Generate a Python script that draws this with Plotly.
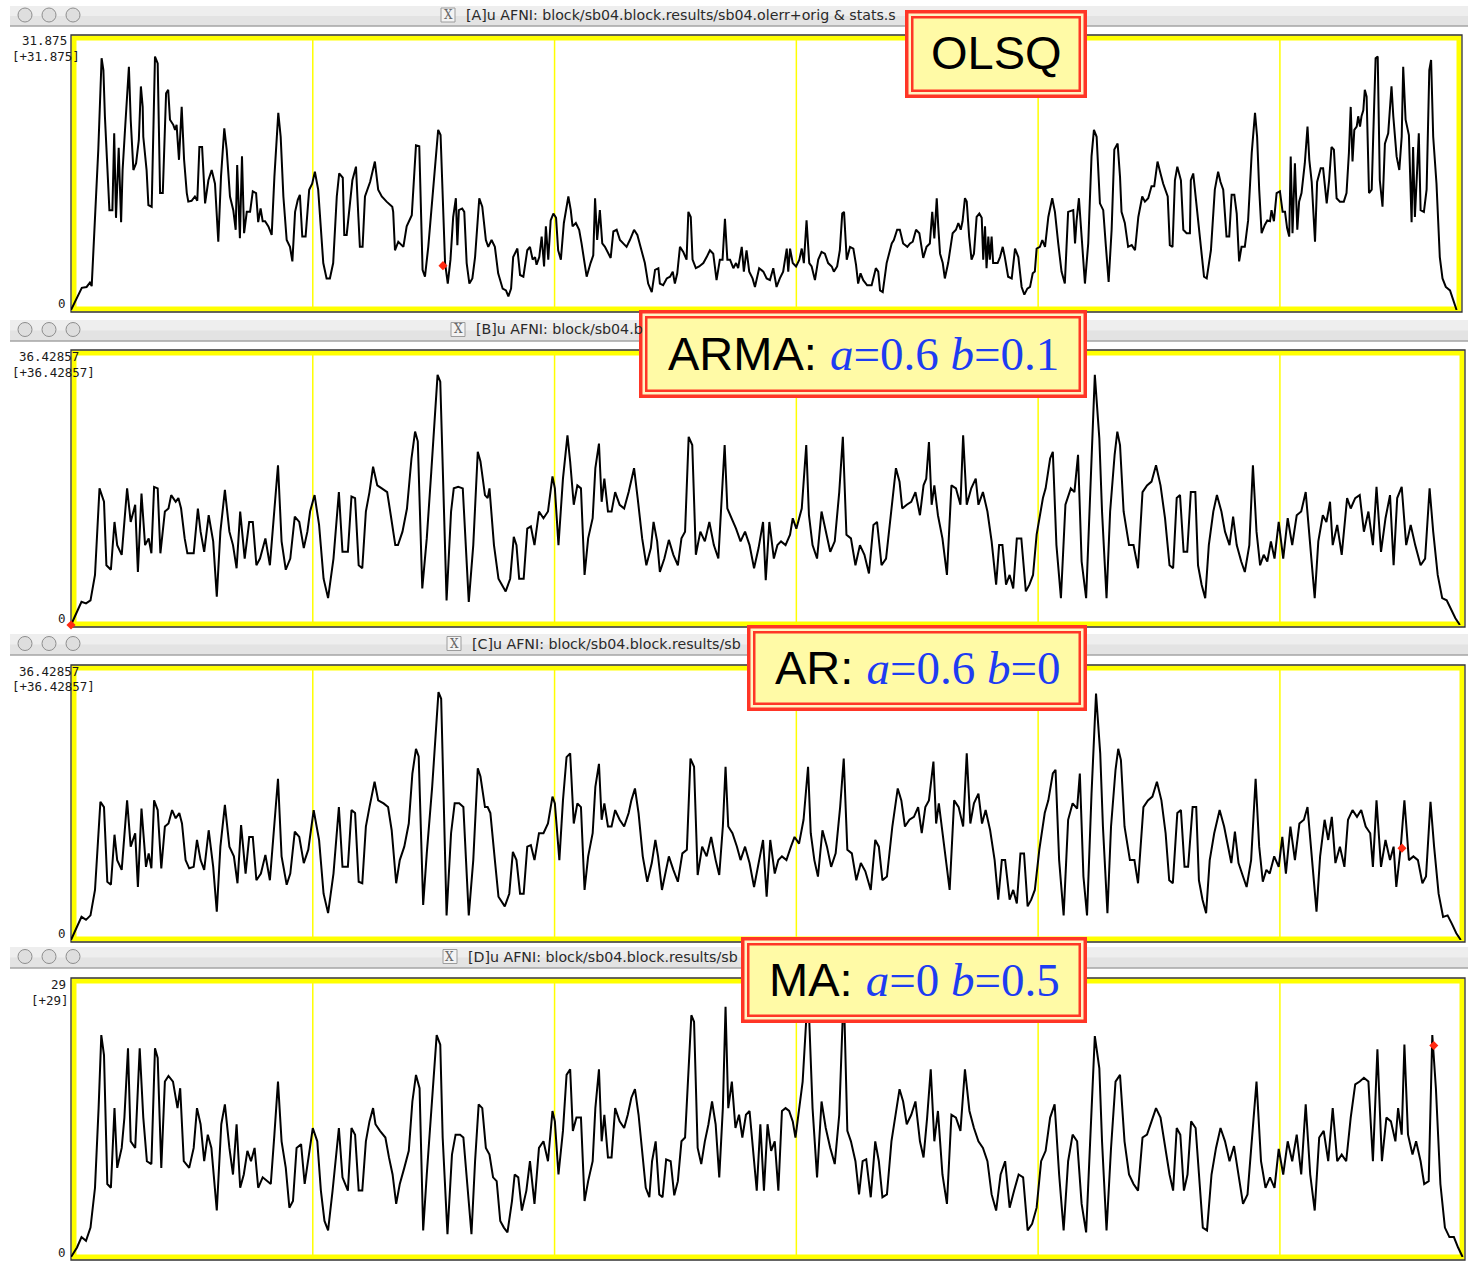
import plotly.graph_objects as go

W, H = 1468, 1261

# ---------------- data (time index in TRs, value) ----------------
olsq_t = [0, 3.6, 5.2, 6.3, 6.9, 7.4, 8.0, 9.1, 10.2, 10.8, 11.3, 12.8, 13.8, 14.4, 15.0, 15.9, 16.7, 17.2, 18.0, 19.3,
          19.9, 20.8, 21.7, 22.6, 23.3, 23.9, 24.1, 25.2, 25.8, 26.9, 28.0, 28.9, 29.7, 30.6, 31.7, 32.4, 33.0, 34.1, 34.7, 35.2,
          36.0, 36.9, 37.7, 38.6, 39.1, 40.2, 41.3, 42.1, 42.8, 43.7, 44.7, 45.8, 46.9, 48.0, 49.1, 50.0, 51.1, 51.9, 53.0, 54.1,
          54.9, 55.4, 56.3, 57.0, 57.7, 58.6, 59.7, 60.6, 61.7, 62.4, 63.2, 63.9, 64.7, 65.8, 66.9, 67.8, 69.1, 69.9, 70.8, 71.9,
          73.0, 73.8, 74.7, 75.6, 76.3, 77.1, 78.2, 79.4, 80.4, 81.3, 82.4, 84.1, 85.2, 86.3, 87.4, 88.6, 89.4, 90.6, 91.1, 91.9,
          93.8, 95.0, 95.8, 96.3, 97.2, 98.0, 99.7, 101.3, 102.4, 103.6, 105.2, 107.1, 107.4, 108.0, 109.1, 110.8, 111.9, 113.6, 115.0, 116.1,
          117.2, 118.0, 119.1, 120.8, 122.4, 123.2, 124.1, 124.7, 125.6, 126.5, 127.4, 128.3, 128.8, 129.3, 130.4, 131.1, 131.9, 132.8, 133.8, 134.7,
          136.1, 137.1, 138.3, 139.1, 140.2, 141.3, 142.4, 143.9, 145.0, 145.8, 146.7, 147.4, 148.8, 149.7, 150.8, 152.1, 153.0, 153.9, 154.7, 155.2,
          156.1, 156.9, 157.7, 158.3, 159.1, 159.9, 160.8, 161.7, 162.4, 163.3, 164.3, 165.8, 166.6, 167.2, 168.3, 169.4, 170.2, 171.9, 173.2, 174.1,
          174.7, 175.4, 176.3, 177.1, 178.0, 179.1, 179.9, 180.8, 181.9, 183.0, 184.1, 185.2, 186.3, 187.7, 188.8, 190.2, 191.3, 192.4, 193.6, 194.7,
          195.8, 196.3, 197.4, 198.6, 199.7, 200.6, 201.3, 202.1, 203.0, 204.1, 205.2, 205.8, 206.6, 207.2, 208.3, 209.4, 210.8, 211.9, 213.0, 214.1,
          215.2, 216.3, 217.2, 218.0, 218.8, 219.7, 220.8, 221.7, 222.4, 223.6, 224.3, 225.2, 226.1, 227.2, 228.0, 229.4, 230.8, 231.9, 233.0, 234.1,
          235.2, 236.3, 237.4, 238.6, 239.1, 239.7, 240.6, 241.7, 242.8, 243.6, 244.3, 245.2, 246.1, 246.9, 248.0, 249.1, 250.2, 251.3, 252.4, 253.6,
          254.3, 255.4, 256.3, 257.1, 257.7, 258.6, 259.7, 260.8, 261.7, 262.4, 263.2, 264.1, 265.4, 266.9, 268.3, 269.1, 269.7, 270.6, 271.9, 273.6,
          274.3, 275.4, 276.3, 277.4, 278.8, 279.7, 280.6, 281.7, 282.8, 284.1, 285.2, 286.3, 287.1, 287.8, 288.6, 289.1, 289.7, 290.6, 291.3, 292.4,
          293.9, 295.0, 295.8, 296.6, 297.2, 298.0, 298.6, 299.4, 300.2, 301.0, 301.9, 302.8, 303.6, 304.1, 304.7, 305.2, 305.8, 306.3, 306.9, 307.4,
          308.9, 309.7, 310.6, 311.3, 312.4, 313.6, 314.7, 315.8, 316.9, 317.8, 318.8, 319.7, 320.6, 321.3, 321.9, 323.0, 323.8, 324.7, 325.8, 327.1,
          328.0, 329.1, 330.2, 331.3, 332.4, 334.1, 334.7, 335.2, 336.0, 336.9, 338.0, 339.1, 340.2, 341.0, 341.9, 343.0, 344.1, 345.0, 345.9, 346.9,
          347.8, 348.9, 349.7, 350.2, 351.3, 352.4, 353.6, 354.7, 355.8, 357.1, 358.0, 359.1, 360.2, 361.1, 362.2, 363.2, 364.1, 365.6, 366.3, 367.2,
          368.0, 368.8, 370.0, 370.8, 371.9, 373.0, 373.3, 374.1, 375.2, 376.3, 377.7, 378.6, 380.0, 381.3, 382.4, 383.2, 384.1, 385.2, 386.1, 386.9,
          387.8, 388.6, 389.4, 390.2, 391.3, 392.4, 393.6, 394.7, 395.4, 396.1, 396.9, 398.0, 398.8, 399.7, 400.2, 401.0, 401.9, 403.0, 403.9, 404.7,
          405.4, 406.1, 406.6, 407.2, 408.0, 408.8, 409.4, 410.2, 411.3, 412.2, 412.8, 413.6, 414.7, 415.4, 416.6, 417.4, 418.6, 419.4, 420.2, 421.0,
          421.9, 423.0, 424.3, 425.2, 426.0, 426.6, 427.2, 427.8, 428.6, 429.1, 429.7, 430.2, 430.8, 431.3, 431.9, 432.7, 433.6, 434.1, 434.9, 435.6,
          436.3, 437.2, 438.0, 439.1, 440.2, 440.8, 441.9, 442.8, 443.6, 444.1, 444.9, 446.0, 446.9, 447.4, 448.0, 448.8, 449.3, 449.9, 451.0, 451.9,
          452.8, 453.4, 454.1, 455.2, 456.3, 457.2, 458.3, 459.7, 460.8, 461.9]
olsq_v = [0.0, 2.6, 2.7, 3.2, 2.8, 6.2, 11.7, 18.8, 29.5, 28.1, 22.7, 11.7, 11.7, 20.7, 10.8, 19.0, 10.3, 16.4, 21.1, 28.5,
          22.3, 16.4, 17.2, 19.9, 26.2, 23.8, 20.3, 16.4, 12.3, 12.1, 29.7, 28.9, 13.7, 13.7, 25.4, 25.8, 22.3, 21.7, 21.1, 21.7,
          17.6, 23.8, 17.6, 13.7, 12.7, 12.8, 13.3, 12.8, 19.1, 19.1, 12.5, 15.2, 16.4, 14.8, 8.0, 15.6, 21.3, 18.8, 13.3, 11.7,
          9.4, 17.0, 8.4, 18.0, 9.0, 11.5, 11.5, 13.9, 13.7, 10.3, 11.9, 10.4, 10.4, 9.8, 8.8, 15.6, 23.1, 20.3, 13.3, 8.2,
          7.4, 5.7, 11.5, 12.9, 13.5, 8.6, 8.6, 14.1, 14.8, 16.2, 14.1, 5.5, 3.7, 3.7, 5.5, 13.3, 16.0, 15.5, 8.8, 8.8,
          15.2, 16.8, 10.9, 7.4, 7.4, 13.3, 15.0, 17.4, 14.1, 13.3, 12.7, 12.1, 11.5, 7.0, 8.0, 7.4, 9.8, 11.1, 19.3, 19.2,
          4.7, 3.9, 7.4, 14.8, 21.1, 20.5, 11.3, 5.5, 3.1, 5.9, 10.9, 13.1, 7.6, 11.7, 11.9, 11.5, 5.5, 3.1, 3.7, 6.2,
          13.1, 12.1, 8.2, 7.4, 8.2, 7.4, 4.3, 2.5, 2.3, 1.6, 2.5, 6.2, 7.2, 4.1, 3.9, 7.0, 7.4, 5.9, 6.2, 5.3,
          6.2, 8.6, 5.1, 9.8, 5.9, 10.5, 11.3, 10.8, 7.0, 5.9, 10.2, 13.3, 11.7, 9.8, 10.2, 9.4, 7.8, 3.9, 5.5, 6.4,
          13.1, 8.2, 11.7, 7.8, 7.4, 6.6, 6.1, 9.2, 9.4, 8.2, 7.8, 7.4, 8.2, 9.4, 8.8, 7.0, 5.5, 3.1, 2.1, 4.7,
          4.9, 3.1, 2.9, 3.7, 3.9, 4.5, 3.1, 4.3, 7.4, 6.8, 5.9, 11.5, 10.9, 5.9, 4.9, 5.1, 5.5, 6.2, 7.0, 6.6,
          3.5, 5.9, 5.9, 10.7, 5.9, 5.9, 4.9, 5.5, 4.9, 7.4, 4.5, 7.0, 4.5, 3.7, 2.7, 4.9, 4.5, 3.7, 3.5, 4.9,
          2.7, 3.7, 4.5, 7.2, 4.5, 7.2, 5.5, 5.1, 5.9, 7.2, 5.5, 10.5, 5.5, 5.1, 3.5, 5.9, 6.8, 6.6, 5.5, 5.1,
          4.5, 5.1, 7.0, 11.3, 11.5, 5.9, 7.4, 7.2, 5.3, 3.1, 4.3, 3.5, 2.9, 2.9, 4.9, 4.5, 2.3, 2.1, 5.5, 7.8,
          8.2, 9.4, 9.4, 7.8, 7.4, 7.8, 8.0, 9.4, 9.0, 6.1, 7.4, 7.8, 11.5, 8.4, 13.1, 9.8, 6.6, 5.5, 3.7, 5.5,
          9.0, 9.4, 10.2, 9.4, 10.4, 13.1, 12.7, 8.6, 5.9, 6.6, 10.9, 11.3, 10.8, 5.9, 9.8, 4.9, 8.6, 5.9, 8.6, 5.5,
          5.5, 6.2, 7.4, 6.2, 3.9, 3.7, 7.2, 6.2, 2.7, 1.8, 2.5, 2.7, 4.3, 4.5, 7.2, 7.4, 8.2, 7.4, 10.9, 13.1,
          11.5, 7.8, 4.5, 3.1, 11.5, 11.7, 7.8, 10.4, 13.1, 8.6, 3.1, 7.8, 18.0, 21.1, 20.3, 12.5, 11.7, 7.4, 3.3, 9.4,
          18.8, 19.5, 15.6, 11.5, 10.2, 7.4, 7.6, 7.0, 10.9, 13.3, 12.7, 13.1, 14.5, 14.5, 17.4, 16.0, 14.8, 13.3, 7.6, 7.4,
          15.2, 16.8, 15.2, 9.4, 9.0, 9.0, 15.2, 16.0, 12.5, 8.6, 3.9, 3.7, 7.0, 14.1, 16.2, 15.0, 14.1, 8.6, 8.6, 13.5,
          13.5, 11.3, 5.7, 7.4, 7.4, 10.5, 18.4, 23.1, 20.3, 14.1, 9.0, 10.0, 10.5, 10.4, 11.7, 10.4, 13.7, 13.9, 11.5, 11.5,
          9.6, 8.6, 18.0, 9.0, 17.2, 9.4, 12.7, 13.7, 17.2, 21.5, 17.6, 15.0, 8.0, 15.0, 16.6, 16.6, 12.5, 15.2, 19.1, 18.8,
          13.1, 12.7, 12.7, 13.7, 18.4, 23.8, 17.4, 21.1, 21.5, 22.7, 21.5, 22.7, 23.4, 25.8, 25.0, 13.7, 14.1, 20.3, 29.5, 29.7,
          15.2, 12.1, 19.5, 20.7, 26.2, 22.7, 18.0, 16.4, 20.3, 28.5, 22.3, 20.5, 10.3, 19.1, 10.9, 16.8, 20.7, 11.7, 11.5, 14.1,
          28.1, 29.3, 20.3, 14.8, 6.2, 3.7, 2.7, 2.3, 1.2, 0.0]

arma_t = [0, 3.5, 5.0, 6.5, 8.0, 9.5, 11.0, 11.8, 13.3, 14.5, 15.4, 16.9, 18.7, 19.9, 21.4, 22.3, 23.5, 24.7, 25.9, 26.8,
          27.7, 28.9, 29.8, 31.3, 32.5, 33.4, 34.9, 35.8, 36.7, 37.9, 38.8, 40.9, 42.3, 43.2, 44.4, 45.9, 47.4, 48.6, 49.8, 51.3,
          52.8, 54.0, 55.2, 56.4, 57.9, 59.4, 60.6, 61.8, 63.0, 64.8, 66.3, 67.8, 69.0, 70.2, 71.6, 73.1, 74.6, 76.1, 77.6, 78.8,
          79.7, 81.2, 82.7, 84.2, 85.7, 87.5, 89.3, 90.5, 92.3, 93.5, 94.7, 95.9, 97.1, 98.3, 99.5, 100.7, 102.1, 103.6, 105.4, 106.6,
          108.1, 109.0, 110.5, 112.0, 113.5, 114.7, 115.6, 117.1, 118.6, 120.1, 122.2, 123.1, 125.2, 126.7, 127.6, 129.1, 130.6, 132.6, 134.1, 135.6,
          136.5, 138.0, 138.9, 139.5, 141.0, 142.5, 144.9, 146.4, 147.6, 148.5, 149.4, 150.9, 152.1, 153.3, 154.5, 156.0, 157.5, 159.0, 160.5, 161.3,
          162.5, 164.0, 165.5, 166.4, 167.6, 168.8, 170.0, 171.2, 172.4, 173.9, 174.8, 176.0, 176.9, 177.8, 179.0, 180.2, 181.4, 182.9, 184.4, 185.9,
          186.8, 187.7, 188.9, 190.4, 191.8, 193.3, 194.2, 195.4, 196.3, 197.8, 199.3, 200.8, 202.3, 203.5, 204.7, 205.9, 207.1, 208.3, 209.8, 211.3,
          212.8, 214.3, 215.8, 216.7, 217.9, 218.8, 220.3, 221.7, 223.2, 224.7, 226.2, 227.7, 229.2, 230.7, 231.6, 232.8, 234.3, 235.5, 236.7, 238.2,
          239.7, 240.6, 241.8, 243.6, 245.1, 246.0, 247.2, 248.7, 250.2, 251.6, 253.1, 254.6, 256.1, 257.3, 258.5, 260.0, 261.5, 263.0, 264.5, 266.0,
          267.5, 268.7, 270.2, 271.7, 273.5, 275.0, 276.2, 277.1, 278.6, 280.1, 281.5, 283.0, 284.2, 285.1, 286.0, 286.9, 287.8, 289.0, 290.5, 292.0,
          293.5, 295.0, 296.5, 297.4, 298.6, 300.1, 301.6, 302.5, 304.0, 305.5, 306.9, 308.4, 309.4, 310.5, 311.7, 312.9, 314.1, 315.3, 316.8, 318.3,
          319.5, 320.7, 321.9, 324.0, 324.9, 326.4, 327.3, 328.5, 330.0, 331.5, 333.3, 334.5, 335.7, 336.9, 338.4, 339.9, 341.3, 342.8, 343.7, 345.2,
          346.4, 347.9, 348.8, 349.7, 350.9, 352.7, 354.2, 355.7, 357.2, 358.7, 360.2, 361.7, 363.2, 364.7, 366.2, 367.4, 368.6, 369.7, 370.9, 372.1,
          373.3, 374.8, 375.7, 376.9, 378.1, 379.3, 380.8, 382.0, 383.5, 384.7, 386.2, 387.4, 388.6, 390.1, 391.3, 392.8, 394.0, 395.2, 396.4, 397.6,
          398.8, 400.0, 401.2, 402.6, 404.1, 405.6, 407.1, 408.6, 410.1, 411.6, 413.1, 414.6, 415.8, 417.3, 418.5, 419.7, 420.6, 422.1, 423.6, 425.4,
          426.6, 428.1, 429.6, 431.0, 432.5, 434.0, 435.2, 436.7, 438.2, 439.7, 440.9, 442.1, 443.6, 445.1, 446.6, 448.1, 449.9, 451.4, 452.9, 454.1,
          455.6, 457.1, 458.6, 460.0, 461.5, 463.0]
arma_v = [0.0, 3.1, 2.9, 3.3, 6.7, 18.3, 16.5, 8.0, 7.4, 13.8, 10.7, 9.4, 18.3, 13.8, 16.1, 7.1, 17.6, 10.7, 11.6, 9.6,
          18.5, 18.3, 9.6, 15.2, 15.6, 17.4, 16.5, 17.0, 15.6, 11.6, 9.6, 9.6, 15.6, 12.5, 9.8, 14.7, 11.2, 3.8, 12.5, 18.1,
          12.5, 10.7, 7.6, 15.2, 8.9, 13.8, 13.8, 8.0, 8.9, 11.6, 8.0, 15.2, 21.4, 11.2, 7.4, 8.9, 14.5, 13.8, 10.3, 12.5,
          15.2, 17.4, 13.4, 6.2, 3.6, 8.9, 17.8, 9.8, 9.8, 17.2, 17.0, 8.0, 7.6, 15.2, 17.8, 21.2, 18.7, 18.3, 17.8, 14.7,
          10.7, 10.7, 12.5, 15.6, 22.3, 25.9, 24.6, 4.9, 11.6, 20.5, 33.5, 32.6, 3.3, 15.2, 18.3, 18.5, 18.3, 3.1, 10.7, 23.2,
          21.9, 17.4, 17.0, 18.3, 10.7, 6.2, 4.5, 6.2, 11.8, 10.7, 6.2, 6.2, 12.9, 13.2, 10.7, 15.2, 14.3, 15.2, 19.9, 18.3,
          10.7, 19.6, 25.4, 21.9, 16.1, 18.7, 18.3, 6.7, 11.6, 14.3, 21.0, 24.3, 16.5, 19.6, 15.2, 15.2, 17.8, 16.1, 15.6, 17.8,
          19.2, 21.0, 17.0, 11.6, 8.0, 10.3, 13.8, 11.2, 7.1, 8.9, 11.4, 9.4, 8.0, 11.6, 12.5, 25.2, 24.1, 9.4, 12.5, 11.2,
          13.8, 10.7, 8.9, 15.2, 24.1, 15.6, 14.3, 12.9, 11.2, 12.5, 10.7, 7.6, 10.3, 13.8, 6.0, 13.8, 8.9, 10.7, 11.2, 10.7,
          12.1, 14.3, 12.9, 15.6, 24.1, 14.7, 10.7, 8.9, 15.2, 12.5, 9.8, 11.2, 17.8, 25.2, 12.1, 11.6, 8.0, 10.7, 9.4, 6.9,
          13.4, 13.8, 8.0, 8.9, 15.2, 21.0, 19.2, 15.6, 16.1, 16.5, 17.8, 14.7, 18.7, 19.6, 24.5, 16.1, 18.7, 14.7, 11.6, 6.7,
          18.7, 18.3, 16.1, 25.4, 16.1, 18.3, 19.6, 16.1, 17.8, 15.2, 11.2, 5.4, 10.7, 10.7, 5.4, 6.7, 4.9, 11.6, 11.6, 4.5,
          5.4, 6.7, 12.1, 17.0, 18.3, 22.3, 23.2, 10.7, 3.6, 16.1, 18.3, 17.8, 22.8, 8.5, 3.6, 19.6, 33.5, 25.0, 15.2, 3.6,
          15.2, 22.8, 25.9, 24.1, 15.2, 10.7, 10.7, 7.6, 17.8, 18.7, 19.2, 21.4, 18.7, 14.3, 8.0, 7.6, 17.0, 17.4, 9.8, 9.8,
          17.8, 17.8, 8.0, 5.4, 3.6, 10.7, 15.2, 17.4, 15.2, 12.5, 10.7, 14.5, 10.7, 8.5, 7.1, 10.7, 21.4, 12.5, 8.0, 9.4,
          8.5, 11.2, 8.9, 13.8, 8.9, 14.3, 10.7, 14.7, 15.2, 17.8, 11.2, 3.6, 11.2, 14.7, 13.8, 16.5, 10.7, 13.4, 9.4, 17.0,
          15.6, 17.0, 17.4, 12.5, 15.2, 10.7, 18.5, 9.8, 14.3, 17.4, 8.0, 17.0, 18.5, 10.7, 13.4, 10.7, 8.0, 8.9, 18.3, 12.5,
          6.7, 3.6, 3.3, 2.2, 0.9, 0.0]

ar_t = [0, 3.5, 5.0, 6.5, 8.0, 9.8, 11.0, 12.1, 13.3, 14.5, 15.4, 16.9, 18.7, 19.9, 21.4, 22.3, 23.5, 25.0, 25.9, 26.8,
        27.7, 28.9, 30.1, 31.3, 32.5, 33.7, 34.9, 36.1, 37.0, 38.2, 39.4, 40.9, 42.0, 43.2, 44.4, 45.9, 47.4, 48.6, 49.8, 51.3,
        52.8, 54.3, 55.5, 56.7, 58.2, 59.4, 60.6, 61.8, 63.3, 64.8, 66.3, 67.8, 69.0, 70.2, 71.9, 73.1, 74.6, 76.1, 77.6, 79.1,
        80.9, 82.7, 84.2, 85.7, 87.5, 89.3, 90.5, 92.3, 93.5, 94.7, 95.9, 97.1, 98.3, 99.5, 101.2, 102.4, 104.2, 105.7, 106.9, 108.4,
        109.6, 111.1, 112.6, 113.8, 115.0, 115.9, 117.4, 118.6, 120.4, 122.5, 123.4, 125.2, 126.7, 127.9, 129.4, 130.8, 132.6, 134.1, 135.6, 136.5,
        138.0, 138.9, 139.8, 141.3, 142.5, 144.6, 146.1, 147.3, 148.5, 149.7, 150.9, 152.1, 153.3, 154.5, 156.0, 157.5, 159.0, 160.5, 161.3, 162.8,
        164.0, 165.2, 166.4, 167.6, 168.8, 170.0, 171.2, 172.4, 173.9, 174.8, 176.0, 176.9, 177.8, 179.0, 180.2, 181.4, 182.9, 184.4, 185.9, 186.8,
        188.0, 189.2, 190.6, 192.1, 193.6, 194.8, 195.7, 197.0, 198.1, 199.3, 200.8, 202.3, 203.8, 205.3, 206.5, 207.7, 208.9, 210.4, 211.9, 213.4,
        214.9, 216.1, 217.3, 218.2, 219.1, 220.5, 222.0, 223.2, 224.7, 226.2, 227.7, 229.2, 230.7, 231.9, 233.1, 234.6, 235.8, 237.0, 238.5, 240.0,
        241.2, 242.7, 244.2, 245.7, 246.6, 247.8, 249.0, 250.5, 252.0, 253.4, 254.9, 256.4, 257.6, 258.8, 260.3, 261.8, 263.3, 264.8, 266.6, 268.1,
        269.3, 270.5, 272.0, 273.8, 275.6, 276.8, 278.0, 279.5, 281.0, 282.4, 283.6, 284.8, 286.0, 287.5, 288.4, 289.3, 290.5, 291.7, 292.9, 294.4,
        295.9, 297.4, 298.6, 299.8, 301.0, 302.5, 303.7, 304.9, 306.4, 307.9, 309.1, 310.3, 311.4, 312.9, 314.1, 315.3, 316.5, 317.7, 318.9, 320.1,
        321.3, 322.8, 324.6, 325.8, 327.3, 328.2, 329.4, 330.9, 332.4, 333.9, 335.4, 336.3, 337.5, 338.7, 340.2, 341.7, 343.1, 344.0, 345.5, 346.7,
        348.2, 349.1, 350.0, 351.2, 353.0, 354.5, 355.7, 357.5, 359.0, 360.5, 362.0, 363.5, 364.9, 366.1, 367.3, 368.8, 370.0, 371.2, 372.4, 373.9,
        375.1, 376.0, 377.2, 378.4, 379.6, 381.1, 382.9, 384.4, 385.6, 386.8, 388.0, 389.2, 390.7, 391.9, 393.4, 394.9, 396.1, 397.3, 398.5, 399.6,
        401.1, 402.6, 403.8, 405.0, 406.5, 408.0, 409.5, 411.0, 412.2, 413.7, 415.2, 416.4, 417.9, 419.1, 420.3, 421.5, 423.0, 424.5, 425.7, 427.2,
        428.7, 430.1, 431.6, 433.1, 434.0, 435.2, 436.7, 438.2, 439.7, 440.9, 441.8, 443.3, 444.5, 446.0, 447.5, 449.0, 450.5, 451.7, 453.2, 454.4,
        455.9, 457.4, 458.9, 460.3, 461.8, 463.3]
ar_v = [0.0, 3.1, 2.7, 3.3, 6.7, 18.5, 17.8, 7.8, 7.4, 14.1, 10.7, 9.4, 18.7, 12.5, 14.3, 7.1, 17.6, 9.8, 11.6, 9.6,
        18.7, 17.4, 9.6, 15.2, 15.6, 17.4, 16.3, 17.0, 15.6, 10.7, 9.6, 9.8, 13.4, 10.7, 9.4, 14.7, 9.8, 3.8, 12.5, 18.1,
        12.5, 11.2, 7.6, 15.4, 8.9, 13.8, 13.8, 8.0, 8.9, 11.4, 8.0, 15.2, 21.6, 11.2, 7.4, 8.9, 14.5, 13.8, 10.3, 12.1,
        17.4, 13.4, 6.2, 3.6, 8.9, 17.8, 9.8, 9.8, 17.4, 17.0, 7.8, 7.6, 15.2, 17.8, 21.2, 18.7, 18.3, 17.8, 14.7, 7.6,
        10.7, 12.5, 15.6, 22.3, 25.6, 24.6, 4.7, 11.6, 20.5, 33.2, 32.3, 3.3, 14.3, 18.3, 18.3, 17.8, 3.3, 10.7, 23.0, 21.9,
        17.8, 17.8, 17.0, 10.7, 5.8, 4.5, 6.2, 11.8, 10.7, 6.2, 6.2, 12.5, 12.7, 10.7, 14.3, 14.3, 15.6, 19.2, 18.3, 10.7,
        18.7, 24.5, 25.0, 15.6, 18.3, 17.8, 6.7, 11.2, 14.3, 20.5, 23.6, 16.1, 18.3, 15.2, 15.2, 17.4, 16.1, 15.2, 17.0, 18.7,
        20.3, 17.0, 11.2, 7.8, 10.3, 13.4, 11.2, 6.7, 8.9, 11.2, 9.4, 7.8, 11.6, 12.1, 24.3, 23.2, 8.7, 12.5, 11.2, 13.8,
        10.7, 8.7, 15.2, 23.2, 15.2, 14.3, 12.5, 10.7, 12.5, 10.3, 7.1, 10.3, 13.4, 5.8, 13.4, 8.9, 10.7, 11.2, 10.7, 12.5,
        13.8, 12.9, 16.1, 23.2, 14.3, 10.7, 8.5, 14.7, 12.5, 9.8, 11.6, 17.8, 24.3, 12.1, 11.6, 8.0, 10.3, 9.2, 6.7, 13.4,
        12.5, 8.0, 8.5, 15.2, 20.3, 18.7, 15.2, 16.1, 16.5, 17.8, 14.3, 17.8, 18.7, 23.9, 15.6, 18.3, 14.3, 10.7, 6.7, 18.7,
        17.8, 15.2, 25.0, 15.6, 18.3, 19.6, 15.6, 17.4, 14.7, 10.7, 5.4, 10.7, 10.7, 5.4, 6.7, 4.9, 11.6, 11.6, 4.5, 5.4,
        6.7, 12.1, 17.0, 18.7, 22.3, 22.8, 10.7, 3.3, 16.1, 18.3, 17.6, 22.3, 8.5, 3.3, 19.6, 33.0, 25.0, 15.2, 3.6, 15.2,
        22.8, 25.6, 24.1, 15.2, 10.7, 10.7, 7.6, 17.8, 18.7, 19.2, 21.2, 18.7, 14.3, 8.0, 7.6, 17.0, 17.4, 9.8, 9.8, 17.8,
        17.8, 8.0, 5.4, 3.6, 10.7, 14.3, 17.4, 15.2, 12.5, 10.3, 14.5, 10.3, 8.5, 7.1, 10.7, 21.6, 12.5, 7.8, 9.4, 8.9,
        11.2, 9.8, 13.8, 8.9, 15.2, 10.7, 15.6, 16.1, 17.8, 10.7, 3.8, 11.2, 16.1, 13.4, 16.5, 10.3, 12.5, 9.8, 16.1, 17.4,
        16.5, 17.4, 15.2, 14.3, 9.8, 18.7, 9.8, 13.4, 10.7, 12.5, 7.1, 12.5, 18.7, 10.7, 11.2, 10.7, 7.6, 8.5, 18.5, 12.5,
        6.2, 3.1, 3.3, 2.2, 0.9, 0.0]

ma_t = [0, 2.0, 3.5, 5.0, 6.5, 8.0, 9.2, 10.1, 11.0, 12.1, 13.3, 14.5, 15.4, 16.9, 17.8, 19.0, 19.9, 21.4, 22.9, 24.1,
        25.3, 26.8, 28.0, 28.9, 30.1, 31.3, 32.5, 34.0, 35.5, 36.4, 37.6, 39.4, 40.9, 42.0, 43.2, 44.4, 45.6, 46.8, 48.6, 50.1,
        51.3, 52.8, 54.0, 55.2, 56.4, 57.6, 58.8, 60.0, 61.2, 62.4, 63.9, 65.4, 66.6, 67.8, 69.0, 70.2, 71.6, 72.8, 74.0, 75.2,
        76.7, 77.9, 79.1, 80.6, 82.1, 83.3, 84.5, 85.7, 87.2, 89.3, 90.5, 92.3, 93.5, 94.7, 95.9, 97.1, 98.3, 99.5, 100.7, 101.5,
        103.0, 104.8, 106.0, 107.2, 108.4, 109.6, 111.1, 112.6, 113.8, 115.0, 116.2, 117.4, 118.6, 120.1, 121.9, 123.1, 123.9, 125.5, 127.0, 128.2,
        129.7, 130.8, 132.3, 133.5, 134.7, 135.9, 137.1, 138.3, 139.5, 140.7, 141.9, 143.1, 144.3, 145.5, 147.0, 147.9, 149.1, 150.3, 151.8, 153.0,
        154.5, 156.0, 157.5, 159.0, 160.5, 161.3, 162.5, 164.0, 165.2, 166.4, 167.3, 168.5, 170.0, 171.2, 172.4, 173.9, 174.8, 176.0, 176.9, 177.8,
        179.0, 180.2, 181.4, 182.9, 184.4, 185.6, 186.8, 188.0, 189.2, 190.4, 191.6, 192.8, 193.7, 194.9, 196.1, 197.2, 198.4, 199.9, 201.1, 202.3,
        203.5, 204.7, 205.9, 206.8, 207.7, 208.9, 210.1, 211.3, 212.5, 213.7, 214.9, 216.1, 217.3, 218.2, 219.1, 220.3, 221.5, 222.7, 223.8, 225.0,
        226.2, 227.4, 228.6, 229.8, 231.0, 232.2, 233.4, 234.6, 235.8, 237.0, 238.2, 239.4, 240.6, 241.5, 242.7, 243.9, 245.7, 247.2, 248.7, 250.2,
        251.6, 253.1, 254.6, 256.1, 257.6, 258.8, 260.0, 261.5, 262.7, 263.9, 265.1, 266.6, 268.1, 269.3, 270.5, 272.0, 273.5, 275.0, 276.2, 277.4,
        278.6, 280.1, 281.5, 283.0, 284.2, 285.4, 286.6, 287.8, 289.0, 290.5, 292.0, 293.5, 295.0, 296.5, 298.0, 299.5, 301.0, 302.5, 304.0, 305.5,
        306.9, 308.4, 309.9, 311.4, 312.9, 314.4, 315.9, 317.4, 318.9, 320.4, 321.9, 323.4, 324.9, 326.4, 327.9, 329.4, 330.9, 332.4, 333.9, 335.4,
        336.9, 338.4, 339.9, 341.3, 342.8, 343.7, 345.2, 346.7, 348.2, 349.7, 351.2, 352.7, 354.2, 355.7, 357.2, 358.7, 360.2, 361.7, 363.2, 364.7,
        366.2, 367.4, 368.6, 369.8, 371.0, 372.2, 373.4, 374.9, 376.1, 377.3, 378.7, 380.2, 381.7, 383.2, 384.7, 386.2, 387.7, 389.2, 390.7, 392.2,
        393.7, 395.2, 396.7, 398.2, 399.7, 401.2, 402.6, 404.1, 405.6, 407.1, 408.6, 410.1, 411.6, 413.1, 414.6, 416.1, 417.6, 419.1, 420.6, 422.1,
        423.6, 425.1, 426.6, 428.1, 429.6, 431.0, 432.5, 434.0, 435.5, 437.0, 438.5, 440.0, 441.5, 442.4, 443.6, 444.5, 445.7, 447.2, 448.4, 449.9,
        451.1, 452.6, 453.8, 455.0, 456.5, 458.0, 459.5, 461.0, 462.4, 463.9]
ma_v = [0.0, 1.0, 2.1, 1.7, 3.1, 7.3, 15.7, 23.4, 21.3, 7.7, 7.3, 15.7, 9.4, 11.5, 14.7, 22.0, 12.2, 11.5, 22.0, 14.7,
        10.1, 9.8, 22.0, 21.0, 9.4, 18.5, 19.1, 18.5, 15.7, 17.8, 10.1, 9.4, 11.5, 15.7, 14.0, 10.1, 12.9, 11.5, 4.9, 14.0,
        16.1, 11.5, 8.7, 14.0, 7.3, 8.7, 11.2, 10.1, 11.5, 7.3, 8.4, 8.0, 7.7, 12.9, 18.5, 12.2, 9.4, 5.2, 5.9, 11.5,
        11.9, 7.7, 10.1, 13.6, 12.2, 7.0, 3.8, 2.8, 7.0, 13.6, 8.4, 7.0, 13.6, 12.9, 7.0, 7.0, 12.2, 14.3, 15.7, 14.0,
        13.3, 12.6, 10.5, 8.7, 5.6, 7.7, 9.4, 11.2, 16.4, 19.2, 17.8, 2.8, 8.7, 15.0, 23.4, 22.4, 12.6, 2.4, 10.8, 12.9,
        12.9, 12.6, 7.3, 2.4, 10.1, 16.1, 15.7, 11.5, 10.8, 8.4, 8.0, 3.8, 3.1, 2.6, 5.9, 8.7, 8.4, 4.9, 7.0, 10.1,
        5.6, 11.5, 12.2, 10.1, 15.4, 14.3, 8.7, 13.3, 19.2, 19.8, 13.3, 14.7, 14.7, 5.9, 8.0, 10.1, 15.7, 19.8, 12.2, 15.0,
        10.5, 10.5, 15.7, 14.3, 13.6, 15.0, 16.8, 17.7, 15.0, 10.8, 7.3, 6.3, 10.1, 12.2, 6.6, 6.3, 10.3, 10.1, 6.5, 8.0,
        12.2, 12.6, 19.2, 25.5, 24.8, 11.5, 9.8, 12.2, 14.0, 16.4, 14.0, 8.4, 15.7, 26.4, 15.7, 18.5, 13.6, 15.0, 12.6, 15.0,
        15.4, 11.5, 7.0, 14.0, 7.0, 14.0, 11.2, 12.2, 7.0, 15.4, 15.7, 15.4, 14.3, 12.6, 15.4, 18.5, 28.3, 15.7, 8.4, 16.4,
        13.6, 11.5, 9.8, 15.0, 28.3, 13.3, 12.2, 10.1, 6.6, 10.1, 10.3, 6.3, 12.2, 10.1, 6.3, 6.6, 12.2, 15.4, 17.7, 16.4,
        14.0, 15.0, 16.4, 12.2, 10.5, 14.7, 19.8, 12.2, 15.4, 8.7, 5.6, 15.0, 14.7, 13.3, 19.8, 15.4, 13.6, 12.2, 11.5, 10.1,
        6.6, 4.9, 8.7, 10.1, 5.2, 7.0, 8.7, 8.4, 2.8, 3.5, 5.2, 10.1, 11.2, 14.7, 16.1, 8.7, 2.8, 10.1, 12.9, 12.2,
        5.6, 2.6, 14.0, 23.3, 19.9, 12.2, 2.8, 11.5, 18.5, 19.2, 12.2, 8.7, 7.7, 7.0, 12.6, 12.9, 14.3, 15.7, 14.7, 11.5,
        8.7, 7.0, 13.6, 12.9, 7.0, 8.7, 14.3, 13.6, 8.0, 3.1, 2.8, 8.7, 11.5, 13.6, 12.2, 10.1, 11.7, 8.7, 5.6, 6.6,
        12.2, 18.5, 10.1, 7.3, 8.4, 7.3, 11.4, 8.7, 12.2, 10.1, 12.9, 8.7, 16.1, 8.7, 4.9, 12.6, 13.3, 10.1, 15.7, 10.1,
        10.8, 10.1, 14.7, 18.2, 18.5, 18.9, 18.5, 10.1, 21.9, 10.1, 14.7, 14.3, 12.2, 15.7, 12.9, 22.4, 12.9, 10.8, 12.2, 10.1,
        7.7, 8.0, 23.4, 17.8, 7.7, 3.1, 2.1, 2.1, 1.0, 0.0]

panel_top = [31.875, 36.42857, 36.42857, 29]
top_labels = ["31.875", "36.42857", "36.42857", "29"]
range_labels = ["[+31.875]", "[+36.42857]", "[+36.42857]", "[+29]"]
window_titles = ["[A]u AFNI: block/sb04.block.results/sb04.olerr+orig & stats.s",
                 "[B]u AFNI: block/sb04.b",
                 "[C]u AFNI: block/sb04.block.results/sb",
                 "[D]u AFNI: block/sb04.block.results/sb"]
model_names = ["OLSQ", "ARMA:", "AR:", "MA:"]
model_a = [None, "0.6", "0.6", "0"]
model_b = [None, "0.1", "0", "0.5"]
cursor_t = [124.0, 0.0, 443.7, 454.3]
cursor_v = [5.2, 0.0, 12.3, 22.3]
block_len = 80.6      # TRs between vertical grid lines
n_blocks = 5
n_span = [463.7, 464.7, 464.7, 464.7]

series_t = [olsq_t, arma_t, ar_t, ma_t]
series_v = [olsq_v, arma_v, ar_v, ma_v]

# ---------------- layout geometry (pixels) ----------------
frames = [(71, 35, 1462, 312), (71, 350, 1465, 627), (71, 665, 1465, 942), (71, 978, 1465, 1260)]
zero_y = [310, 625, 940, 1257]
top_y = [38, 353, 668, 982]
bars = [(6, 26), (320, 341), (634, 655), (947, 968)]
icon_x = [441, 451, 447, 443]
boxes = [(905, 10, 1087, 98), (639, 310, 1087, 398), (747, 625, 1087, 711), (741, 937, 1087, 1023)]
top_lab = [(20, 41, "left"), (17, 356, "left"), (17, 671, "left"), (68, 984, "right")]
rng_lab = [(10, 57, "left"), (10, 372, "left"), (10, 687, "left"), (71, 1000, "right")]
zero_lab_y = [303, 618, 933, 1252]


def X(p):
    return p / W


def Y(p):
    return 1 - p / H


fig = go.Figure()
shapes = []
annotations = []
layout_axes = {}

RED = "#ff3526"
PALE = "#fff4c4"
FILL = "#fffaa6"
BLUE = "#1d3cf2"

for i in range(4):
    sfx = "" if i == 0 else str(i + 1)
    fx0, fy0, fx1, fy1 = frames[i]
    layout_axes["xaxis" + sfx] = dict(
        domain=[X(fx0), X(fx1)], range=[0, n_span[i]], anchor="y" + sfx,
        showgrid=False, showticklabels=False, ticks="", zeroline=False, showline=False, fixedrange=True)
    layout_axes["yaxis" + sfx] = dict(
        domain=[Y(zero_y[i]), Y(top_y[i])], range=[0, panel_top[i]], anchor="x" + sfx,
        showgrid=False, showticklabels=False, ticks="", zeroline=False, showline=False, fixedrange=True)

    fig.add_trace(go.Scatter(x=series_t[i], y=series_v[i], mode="lines",
                             line=dict(color="#000000", width=2), xaxis="x" + sfx, yaxis="y" + sfx,
                             showlegend=False, hoverinfo="skip"))
    fig.add_trace(go.Scatter(x=[cursor_t[i]], y=[cursor_v[i]], mode="markers",
                             marker=dict(symbol="diamond", size=7, color="#ff2a12"), cliponaxis=False,
                             xaxis="x" + sfx, yaxis="y" + sfx, showlegend=False, hoverinfo="skip"))

    # vertical block lines (yellow)
    for k in range(1, n_blocks + 1):
        shapes.append(dict(type="line", xref="x" + sfx, yref="y" + sfx + " domain",
                           x0=block_len * k, x1=block_len * k, y0=0, y1=1,
                           line=dict(color="#ffff00", width=1.5), layer="below"))

    # title bar
    b0, b1 = bars[i]
    shapes.append(dict(type="rect", xref="paper", yref="paper", x0=X(10), x1=X(1468), y0=Y(b1), y1=Y(b0),
                       fillcolor="#e3e3e3", line=dict(width=0), layer="below"))
    shapes.append(dict(type="rect", xref="paper", yref="paper", x0=X(10), x1=X(1468), y0=Y((b0 + b1) / 2), y1=Y(b0),
                       fillcolor="#eeeeee", line=dict(width=0), layer="below"))
    shapes.append(dict(type="line", xref="paper", yref="paper", x0=X(10), x1=X(1468), y0=Y(b1), y1=Y(b1),
                       line=dict(color="#a4a4a4", width=1.5), layer="below"))
    cy = (b0 + b1) / 2 - 1
    for cx in (25, 49, 73):
        shapes.append(dict(type="circle", xref="paper", yref="paper", x0=X(cx - 7), x1=X(cx + 7),
                           y0=Y(cy + 7), y1=Y(cy - 7), fillcolor="#dedede",
                           line=dict(color="#8e8e8e", width=1), layer="below"))
    ix = icon_x[i]
    shapes.append(dict(type="rect", xref="paper", yref="paper", x0=X(ix), x1=X(ix + 14), y0=Y(cy + 7), y1=Y(cy - 7),
                       fillcolor="#f3f3f3", line=dict(color="#9c9c9c", width=1), layer="below"))
    annotations.append(dict(x=X(ix + 7), y=Y(cy), xref="paper", yref="paper", text="X", showarrow=False,
                            xanchor="center", yanchor="middle",
                            font=dict(family="DejaVu Serif", size=12, color="#666666")))
    annotations.append(dict(x=X(ix + 23), y=Y(cy), xref="paper", yref="paper", text=window_titles[i],
                            showarrow=False, xanchor="left", yanchor="middle",
                            font=dict(family="DejaVu Sans", size=14.2, color="#2a2a2a")))

    # frame: yellow border with dark outline
    shapes.append(dict(type="rect", xref="paper", yref="paper", x0=X(fx0 + 3), x1=X(fx1 - 3),
                       y0=Y(fy1 - 3), y1=Y(fy0 + 3), line=dict(color="#ffff00", width=5), layer="below"))
    shapes.append(dict(type="rect", xref="paper", yref="paper", x0=X(fx0), x1=X(fx1),
                       y0=Y(fy1), y1=Y(fy0), line=dict(color="#333333", width=1.3), layer="below"))

    # value labels
    tx, ty, ta = top_lab[i]
    annotations.append(dict(x=X(tx), y=Y(ty), xref="paper", yref="paper", text=top_labels[i], showarrow=False,
                            xanchor=ta, yanchor="middle",
                            font=dict(family="DejaVu Sans Mono", size=12.5, color="#1a1a1a")))
    rx, ry, ra = rng_lab[i]
    annotations.append(dict(x=X(rx), y=Y(ry), xref="paper", yref="paper", text=range_labels[i], showarrow=False,
                            xanchor=ra, yanchor="middle",
                            font=dict(family="DejaVu Sans Mono", size=12.5, color="#1a1a1a")))
    annotations.append(dict(x=X(68), y=Y(zero_lab_y[i]), xref="paper", yref="paper", text="0", showarrow=False,
                            xanchor="right", yanchor="middle",
                            font=dict(family="DejaVu Sans Mono", size=12.5, color="#1a1a1a")))

# model label boxes (drawn on top)
for i in range(4):
    x0, y0, x1, y1 = boxes[i]
    for inset, col in ((0, RED), (3.5, PALE), (6, RED), (8.5, FILL)):
        shapes.append(dict(type="rect", xref="paper", yref="paper", x0=X(x0 + inset), x1=X(x1 - inset),
                           y0=Y(y1 - inset), y1=Y(y0 + inset), fillcolor=col, line=dict(width=0),
                           layer="above"))
    if model_a[i] is None:
        txt = model_names[i]
    else:
        txt = (model_names[i] + " <span style='font-family:Liberation Serif;color:" + BLUE + "'>"
               "<i>a</i>=" + model_a[i] + " <i>b</i>=" + model_b[i] + "</span>")
    annotations.append(dict(x=X((x0 + x1) / 2), y=Y((y0 + y1) / 2 - 1), xref="paper", yref="paper", text=txt,
                            showarrow=False, xanchor="center", yanchor="middle",
                            font=dict(family="Liberation Sans", size=47, color="#000000")))

fig.update_layout(width=W, height=H, autosize=False, margin=dict(l=0, r=0, t=0, b=0, pad=0),
                  paper_bgcolor="#ffffff", plot_bgcolor="rgba(0,0,0,0)",
                  shapes=shapes, annotations=annotations, showlegend=False, **layout_axes)

fig.write_html("out.html", config={"displayModeBar": False},
               post_script="document.body.style.margin='0px';document.body.style.overflow='hidden';")
